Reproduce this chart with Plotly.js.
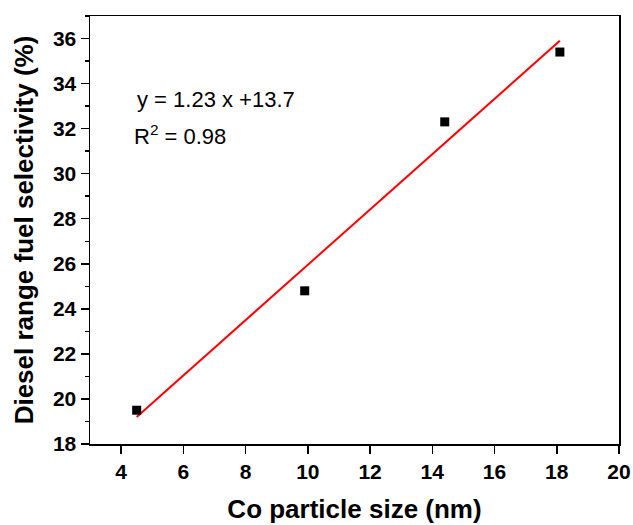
<!DOCTYPE html>
<html>
<head>
<meta charset="utf-8">
<script src="https://cdn.plot.ly/plotly-3.0.1.min.js"></script>
<style>html,body{margin:0;padding:0;background:#fff;}#chart{width:633px;height:525px;}</style>
</head>
<body>
<div id="chart"></div>
<script>
// Data
const particleSize = [4.5, 9.9, 14.4, 18.1];          // Co particle size (nm)
const dieselSelectivity = [19.5, 24.8, 32.3, 35.4];   // Diesel range fuel selectivity (%)
const fitX = [4.5, 18.1];                              // linear fit end points
const fitY = [19.2, 35.9];
const fitEquation = 'y = 1.23 x +13.7';
const fitR2 = 'R<sup>2</sup> = 0.98';

const FONT = 'Arial, "Liberation Sans", sans-serif';

const traces = [
  {
    x: fitX, y: fitY, type: 'scatter', mode: 'lines',
    line: {color: '#ff0000', width: 2},
    showlegend: false, hoverinfo: 'skip'
  },
  {
    x: particleSize, y: dieselSelectivity, type: 'scatter', mode: 'markers',
    marker: {symbol: 'square', size: 9, color: '#000000'},
    showlegend: false
  }
];

const layout = {
  width: 633, height: 525,
  margin: {l: 90, r: 14, t: 16, b: 81},
  paper_bgcolor: '#ffffff', plot_bgcolor: '#ffffff',
  font: {family: FONT, color: '#000000'},
  xaxis: {
    range: [3, 20], dtick: 2, tick0: 0,
    showgrid: false, zeroline: false,
    showline: true, linecolor: '#000000', linewidth: 1.5, mirror: true,
    ticks: 'outside', ticklen: 8, tickwidth: 1.5, tickcolor: '#000000',
    tickfont: {family: FONT, size: 21, weight: 'bold', color: '#000000'},
    title: {text: 'Co particle size (nm)', font: {family: FONT, size: 26, weight: 'bold', color: '#000000'}, standoff: 18}
  },
  yaxis: {
    range: [18, 37], dtick: 2, tick0: 0,
    showgrid: false, zeroline: false,
    showline: true, linecolor: '#000000', linewidth: 1.5, mirror: true,
    ticks: 'outside', ticklen: 8, tickwidth: 1.5, tickcolor: '#000000',
    minor: {ticks: 'outside', ticklen: 4, tickwidth: 1.5, tickcolor: '#000000', dtick: 1, tick0: 0, showgrid: false},
    tickfont: {family: FONT, size: 21, weight: 'bold', color: '#000000'},
    title: {text: 'Diesel range fuel selectivity (%)', font: {family: FONT, size: 26, weight: 'bold', color: '#000000'}, standoff: 12}
  },
  annotations: [
    {xref: 'paper', yref: 'paper', x: 0.085, y: 0.806, xanchor: 'left', yanchor: 'middle',
     text: fitEquation, showarrow: false, font: {family: FONT, size: 22, color: '#000000'}},
    {xref: 'paper', yref: 'paper', x: 0.080, y: 0.722, xanchor: 'left', yanchor: 'middle',
     text: fitR2, showarrow: false, font: {family: FONT, size: 22, color: '#000000'}}
  ]
};

Plotly.newPlot('chart', traces, layout, {displayModeBar: false, staticPlot: true});
</script>
</body>
</html>
